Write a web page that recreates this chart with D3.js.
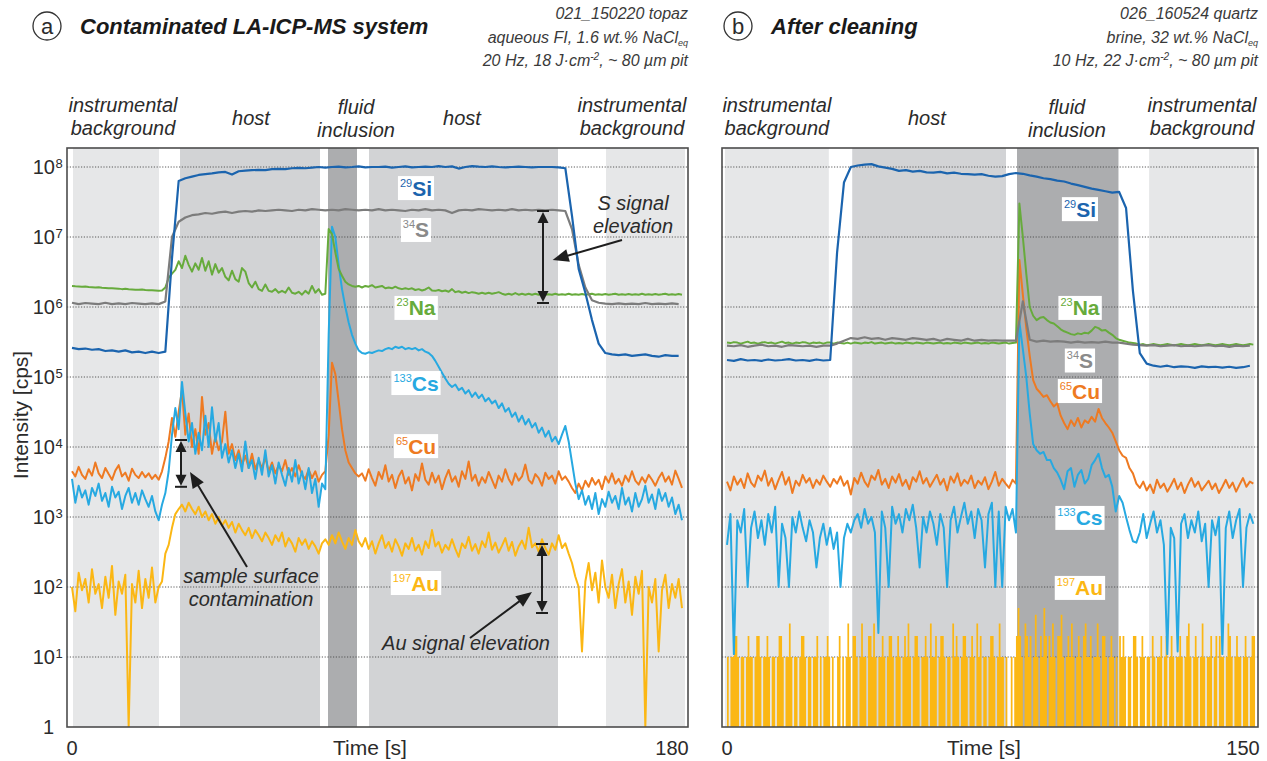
<!DOCTYPE html>
<html><head><meta charset="utf-8">
<script src="https://cdn.jsdelivr.net/npm/d3@7/dist/d3.min.js"></script>
<style>
html,body{margin:0;padding:0;background:#fff;}
svg{display:block;}
</style></head>
<body>
<svg id="chart" width="1267" height="761"></svg>
<script>
// ================= DATA =================
// sampling grids (seconds)
const aTimeSmooth = d3.range(0, 184, 2);   // 0..182
const aTime = d3.range(0, 184, 1);         // 0..183
const bTimeSmooth = d3.range(0, 154, 2);   // 0..152
const bTime = d3.range(0, 154, 1);         // 0..153
const bTimeFine = d3.range(0, 154, 0.5);   // 0..153.5

// ---- panel a: contaminated system (cps) ----
const aSi = [2.6e5,2.5e5,2.55e5,2.45e5,2.5e5,2.35e5,2.4e5,2.3e5,2.4e5,2.25e5,
2.3e5,2.2e5,2.3e5,2.2e5,2.3e5,5e6,6.3e7,6.9e7,7.3e7,7.7e7,
7.9e7,8.1e7,8.4e7,8.5e7,7.8e7,8.7e7,8.9e7,9.0e7,9.1e7,9.0e7,
9.3e7,9.4e7,9.3e7,9.6e7,9.7e7,9.6e7,9.8e7,1.0e8,9.8e7,1.0e8,
1.01e8,9.9e7,1.0e8,1.02e8,9.9e7,1.0e8,1.0e8,1.01e8,9.8e7,1.0e8,
1.02e8,9.9e7,1.0e8,1.01e8,1.0e8,1.03e8,1.0e8,1.02e8,9.5e7,1.0e8,
1.03e8,1.01e8,1.0e8,1.02e8,1.0e8,9.9e7,1.0e8,1.01e8,1.0e8,9.9e7,
1.0e8,1.0e8,1.0e8,9.9e7,9.6e7,2.0e7,3.5e6,1.6e6,6.5e5,3.0e5,
2.2e5,2.1e5,2.05e5,2.1e5,2.0e5,2.05e5,2.1e5,2.0e5,1.95e5,2.05e5,
2.0e5,2.0e5];
const aS = [1.15e6,1.1e6,1.14e6,1.12e6,1.1e6,1.15e6,1.1e6,1.13e6,1.1e6,1.14e6,
1.12e6,1.1e6,1.13e6,1.1e6,1.2e6,1.0e7,1.65e7,1.9e7,2.05e7,2.1e7,
2.2e7,2.15e7,2.25e7,2.3e7,2.2e7,2.3e7,2.35e7,2.3e7,2.4e7,2.35e7,
2.4e7,2.45e7,2.4e7,2.35e7,2.45e7,2.4e7,2.5e7,2.45e7,2.4e7,2.45e7,
2.4e7,2.5e7,2.45e7,2.4e7,2.45e7,2.4e7,2.5e7,2.4e7,2.45e7,2.4e7,
2.35e7,2.45e7,2.4e7,2.5e7,2.4e7,2.45e7,2.4e7,2.2e7,2.4e7,2.45e7,
2.4e7,2.5e7,2.45e7,2.4e7,2.45e7,2.4e7,2.5e7,2.4e7,2.45e7,2.4e7,
2.45e7,2.4e7,2.45e7,2.4e7,2.35e7,1.3e7,4.0e6,1.9e6,1.25e6,1.15e6,
1.12e6,1.1e6,1.13e6,1.1e6,1.12e6,1.1e6,1.14e6,1.1e6,1.12e6,1.1e6,
1.13e6,1.1e6];
const aNa = [2.0e6,1.98e6,1.97e6,1.95e6,1.96e6,1.93e6,1.92e6,1.9e6,1.91e6,1.88e6,
1.87e6,1.86e6,1.85e6,1.84e6,1.83e6,1.8e6,1.82e6,1.79e6,1.78e6,1.77e6,
1.76e6,1.78e6,1.75e6,1.74e6,1.73e6,1.72e6,1.7e6,1.72e6,
1.9e6,2.6e6,3.0e6,3.4e6,4.5e6,3.6e6,5.4e6,4.0e6,3.2e6,4.2e6,
3.4e6,5.0e6,3.3e6,4.5e6,2.9e6,4.1e6,3.1e6,3.6e6,2.7e6,2.4e6,
3.3e6,2.5e6,2.3e6,3.6e6,3.2e6,2.2e6,1.9e6,2.3e6,1.8e6,1.7e6,
2.1e6,1.7e6,1.65e6,1.8e6,1.6e6,1.7e6,1.6e6,1.9e6,1.6e6,1.55e6,
1.65e6,1.5e6,1.7e6,1.55e6,2.0e6,1.6e6,1.8e6,1.5e6,1.55e6,
1.3e7,1.1e7,6e6,3.5e6,2.8e6,2.3e6,2.1e6,2.0e6,1.95e6,2.0e6,
1.9e6,2.0e6,1.95e6,2.05e6,1.9e6,1.95e6,2.0e6,1.85e6,1.9e6,1.85e6,
1.95e6,1.85e6,1.8e6,1.85e6,1.8e6,1.85e6,1.75e6,1.8e6,1.72e6,1.78e6,
1.9e6,1.72e6,1.7e6,1.75e6,1.68e6,1.72e6,1.65e6,1.8e6,1.63e6,1.68e6,
1.6e6,1.65e6,1.58e6,1.63e6,1.6e6,1.55e6,1.6e6,1.55e6,1.6e6,1.55e6,
1.58e6,1.63e6,1.55e6,1.5e6,1.55e6,1.5e6,1.58e6,1.5e6,1.55e6,1.5e6,
1.55e6,1.5e6,1.55e6,1.5e6,1.55e6,1.5e6,1.52e6,1.5e6,1.55e6,1.5e6,
1.52e6,1.5e6,1.55e6,1.5e6,
1.52e6,1.5e6,1.53e6,1.5e6,1.52e6,1.55e6,1.5e6,1.52e6,1.5e6,1.53e6,
1.5e6,1.52e6,1.55e6,1.5e6,1.52e6,1.5e6,1.53e6,1.5e6,1.52e6,1.5e6,
1.55e6,1.5e6,1.52e6,1.5e6,1.53e6,1.5e6,1.52e6,1.55e6,1.5e6,1.52e6,
1.5e6,1.53e6,1.5e6];
const aCs = [3.5e3,1.6e3,2.8e3,1.9e3,2.4e3,1.5e3,2.6e3,2.0e3,3.0e3,1.7e3,
2.2e3,1.4e3,2.7e3,1.9e3,2.3e3,1.3e3,2.0e3,2.6e3,1.6e3,2.2e3,
1.5e3,2.4e3,1.8e3,1.4e3,2.0e3,1.2e3,9e2,
1.5e3,2.2e3,4.5e3,1.5e4,3.6e4,1.8e4,8.5e4,3.0e4,1.2e4,2.2e4,
8e3,1.6e4,9e3,2.8e4,1.0e4,3.7e4,1.2e4,2.2e4,7e3,1.1e4,
6e3,9e3,5e3,8e3,4.5e3,1.2e4,5e3,6.5e3,3.5e3,7e3,
4e3,9e3,3.8e3,5.5e3,3e3,6e3,4e3,2.8e3,5e3,3.2e3,
6.5e3,3e3,4.5e3,2.5e3,5e3,2.2e3,3.5e3,1.4e3,3e3,2.5e3,
4e5,1.4e7,1.0e7,4e6,1.8e6,1.0e6,6e5,4e5,3e5,2.4e5,
2.2e5,2.15e5,2.25e5,2.2e5,2.3e5,2.4e5,2.35e5,2.5e5,2.6e5,2.5e5,
2.7e5,2.6e5,2.7e5,2.5e5,2.6e5,2.5e5,2.6e5,2.4e5,2.5e5,2.3e5,
2.2e5,2.0e5,1.7e5,1.4e5,1.15e5,9.5e4,8e4,7.2e4,7.8e4,6.5e4,
7e4,5.8e4,6.5e4,5.2e4,6e4,5e4,5.6e4,4.5e4,5e4,4.2e4,
4.6e4,3.6e4,4.2e4,3.2e4,3.6e4,2.7e4,3.1e4,2.3e4,2.8e4,2.1e4,
2.5e4,1.9e4,2.2e4,1.6e4,1.9e4,1.4e4,1.7e4,1.2e4,1.4e4,1.1e4,
1.5e4,2.0e4,1.2e4,
6e3,3e3,1.8e3,2.4e3,1.5e3,2.0e3,1.3e3,2.2e3,1.1e3,1.8e3,
1.4e3,2.3e3,1.6e3,2.0e3,1.3e3,2.6e3,1.5e3,1.9e3,1.2e3,2.2e3,
1.4e3,1.8e3,2.8e3,1.6e3,2.1e3,1.3e3,2.5e3,1.7e3,2.2e3,1.4e3,
1.9e3,1.1e3,1.5e3,9e2];
const aCu = [4.5e3,3.8e3,5.2e3,4.0e3,3.5e3,4.8e3,3.9e3,6.0e3,4.2e3,3.6e3,
5.0e3,4.1e3,3.4e3,4.6e3,5.5e3,3.8e3,4.3e3,3.3e3,4.9e3,4.0e3,
3.6e3,4.4e3,3.7e3,4.2e3,3.5e3,4.0e3,3.4e3,4.5e3,
7e3,1.2e4,2.6e4,1.4e4,3.2e4,6.5e4,1.5e4,3.0e4,1.0e4,1.8e4,
8e3,5.2e4,1.5e4,2.2e4,8e3,1.4e4,9e3,1.2e4,3.2e4,8e3,
1.1e4,6.5e3,9e3,
5.5e3,7.5e3,5e3,8e3,4.8e3,6.5e3,5e3,7e3,4.5e3,6e3,
4.2e3,5.5e3,4.5e3,6.5e3,4e3,5e3,3.8e3,5.5e3,4e3,3.5e3,
4.8e3,3.6e3,4.5e3,3.2e3,4e3,4.5e3,
1.5e4,1.6e5,1.1e5,4.5e4,1.8e4,9e3,6e3,5e3,4.2e3,
3.8e3,4.2e3,3.3e3,4.8e3,3.6e3,2.8e3,4.4e3,3.5e3,5.5e3,3.2e3,
4.0e3,2.6e3,3.8e3,4.6e3,3.0e3,3.7e3,2.4e3,4.1e3,3.3e3,5.8e3,
3.4e3,2.9e3,4.3e3,3.1e3,3.9e3,2.5e3,3.6e3,4.7e3,3.2e3,3.8e3,
2.7e3,4.5e3,3.5e3,6.2e3,3.3e3,4.0e3,2.8e3,3.7e3,3.1e3,4.4e3,
3.4e3,2.6e3,3.9e3,3.2e3,4.8e3,3.5e3,2.9e3,4.2e3,3.3e3,3.8e3,
5.6e3,3.4e3,3.0e3,4.1e3,3.6e3,2.8e3,4.3e3,3.5e3,3.9e3,3.0e3,
4.5e3,3.4e3,3.8e3,3.2e3,2.6e3,2.2e3,3.0e3,2.4e3,3.3e3,2.7e3,
3.6e3,2.9e3,3.4e3,2.5e3,3.8e3,3.1e3,4.2e3,3.0e3,3.5e3,2.8e3,
3.9e3,3.2e3,4.5e3,3.3e3,2.9e3,3.7e3,3.1e3,4.0e3,3.4e3,2.8e3,
3.6e3,4.3e3,3.2e3,3.8e3,2.9e3,4.6e3,3.5e3,2.6e3];
const aAu = [1.0e2,4.5e1,1.6e2,9e1,1.3e2,6e1,1.8e2,8e1,1.1e2,5e1,
1.4e2,7e1,2.0e2,4e1,1.2e2,8e1,1.5e2,1,1.1e2,6e1,
1.7e2,5e1,1.3e2,7e1,1.9e2,6e1,1.0e2,1.2e2,
3e2,4e2,7e2,1.1e3,1.3e3,1.5e3,1.2e3,1.6e3,1.3e3,1.1e3,
1.4e3,1.0e3,1.2e3,9e2,1.1e3,8e2,1.0e3,7.5e2,9e2,7e2,
8.5e2,6e2,8e2,6.5e2,5.5e2,7e2,5e2,6.5e2,5.5e2,4.5e2,
6e2,5e2,4e2,5.5e2,4.5e2,6e2,3.8e2,5e2,4.2e2,3.2e2,
5e2,4e2,4.8e2,3.5e2,4.5e2,3.8e2,3e2,4.2e2,4.8e2,
4e2,5.5e2,4.2e2,6e2,4.5e2,3.5e2,5e2,4e2,6.5e2,4.5e2,
3.8e2,5e2,3.5e2,4.5e2,3e2,4.2e2,5.5e2,3.6e2,4.4e2,3.2e2,
4.8e2,3.8e2,2.8e2,4.2e2,3.5e2,5e2,3.3e2,4e2,2.9e2,4.5e2,
3.6e2,6.5e2,3.8e2,4.4e2,3.1e2,4e2,3.4e2,4.8e2,3.5e2,2.7e2,
4.2e2,3.6e2,5.2e2,3.3e2,4.1e2,3e2,4.5e2,3.7e2,6e2,3.4e2,
4.3e2,3.1e2,3.9e2,5e2,3.3e2,4.4e2,2.8e2,3.8e2,4.6e2,3.5e2,
7e2,3.7e2,4.2e2,3.2e2,4.8e2,3.6e2,2.9e2,4.2e2,3.4e2,5.5e2,
3.6e2,4.2e2,3e2,2.2e2,
1.4e2,1.0e2,1.2e1,1.2e2,2.2e2,9e1,1.6e2,6e1,2.4e2,1.0e2,
7e1,1.5e2,5e1,1.1e2,1.8e2,6e1,1.2e2,4e1,1.4e2,8e1,
1.7e2,1,1.0e2,6e1,1.3e2,1.2e1,9e1,1.5e2,5e1,1.1e2,
7e1,1.3e2,5e1];

// ---- panel b: after cleaning (cps) ----
const bSi = [1.75e5,1.7e5,1.8e5,1.72e5,1.75e5,1.7e5,1.78e5,1.72e5,1.75e5,1.8e5,
1.72e5,1.75e5,1.7e5,1.78e5,1.72e5,1.75e5,6e6,6e7,1.0e8,1.05e8,
1.08e8,1.1e8,1.02e8,9.8e7,9.4e7,8.8e7,9.0e7,8.6e7,8.8e7,8.4e7,
8.3e7,8.5e7,8.1e7,8.3e7,8.0e7,7.9e7,7.8e7,7.9e7,7.5e7,7.3e7,
7.4e7,7.9e7,8.2e7,8.0e7,7.6e7,7.3e7,6.9e7,6.7e7,6.4e7,6.2e7,
5.8e7,5.5e7,5.2e7,4.9e7,4.7e7,4.5e7,4.3e7,4.4e7,2.6e7,1.7e6,
2.2e5,1.55e5,1.45e5,1.4e5,1.45e5,1.38e5,1.42e5,1.4e5,1.35e5,1.42e5,
1.38e5,1.4e5,1.36e5,1.4e5,1.35e5,1.38e5,1.45e5];
const bS = [2.8e5,2.75e5,2.85e5,2.7e5,2.8e5,2.9e5,2.75e5,2.8e5,2.7e5,2.85e5,
2.8e5,2.75e5,2.8e5,2.7e5,2.8e5,2.8e5,3.0e5,3.3e5,3.6e5,3.5e5,
3.7e5,3.5e5,3.6e5,3.4e5,3.6e5,3.5e5,3.4e5,3.6e5,3.5e5,3.4e5,
3.5e5,3.3e5,3.5e5,3.4e5,3.3e5,3.5e5,3.3e5,3.4e5,3.3e5,3.35e5,
3.3e5,3.3e5,3.3e5,1.2e6,3.4e5,3.2e5,3.3e5,3.2e5,3.25e5,3.2e5,
3.1e5,3.2e5,3.1e5,3.15e5,3.1e5,3.2e5,3.1e5,3.1e5,3.0e5,2.9e5,
2.85e5,2.8e5,2.85e5,2.75e5,2.8e5,2.85e5,2.75e5,2.8e5,2.75e5,2.8e5,
2.85e5,2.75e5,2.8e5,2.7e5,2.8e5,2.75e5,2.8e5];
const bNa = [3.1e5,3.05e5,3.15e5,3.1e5,3.0e5,3.1e5,3.2e5,3.05e5,3.1e5,3.0e5,
3.1e5,3.15e5,3.05e5,3.1e5,3.0e5,3.1e5,3.2e5,3.05e5,3.1e5,3.0e5,
3.1e5,3.05e5,3.15e5,3.1e5,3.0e5,3.1e5,3.05e5,3.1e5,3.0e5,3.1e5,
3.1e5,3.0e5,3.1e5,3.05e5,3.0e5,3.1e5,
3.0e5,3.1e5,3.05e5,3.0e5,3.1e5,3.05e5,3.15e5,3.0e5,3.05e5,3.1e5,
3.0e5,3.05e5,3.1e5,3.0e5,3.05e5,3.0e5,3.1e5,3.05e5,3.0e5,3.1e5,
3.05e5,3.0e5,3.1e5,3.05e5,3.0e5,3.05e5,3.1e5,3.0e5,3.05e5,3.0e5,
3.1e5,3.05e5,3.0e5,3.1e5,3.05e5,3.0e5,3.05e5,3.1e5,3.0e5,3.05e5,
3.0e5,3.1e5,3.05e5,3.0e5,3.05e5,3.1e5,3.0e5,3.05e5,3.1e5,
3.0e7,1.0e7,3.0e6,1.0e6,7.5e5,6.5e5,7e5,7.2e5,6.5e5,6e5,
5.8e5,5.3e5,4.8e5,4.5e5,4.3e5,4.1e5,4.0e5,4.2e5,4.1e5,4.3e5,
4.2e5,4.6e5,5.2e5,5.0e5,4.6e5,4.7e5,4.3e5,4.0e5,3.6e5,3.4e5,
3.3e5,3.2e5,3.1e5,3.05e5,3.0e5,
2.9e5,2.95e5,2.85e5,2.9e5,2.95e5,2.9e5,2.85e5,2.9e5,2.95e5,2.9e5,
2.85e5,2.9e5,2.95e5,2.9e5,2.85e5,2.9e5,2.95e5,2.9e5,2.85e5,2.9e5,
2.95e5,2.9e5,2.85e5,2.9e5,2.95e5,2.9e5,2.85e5,2.9e5,2.95e5,2.9e5,
2.85e5,2.9e5,2.95e5,2.9e5];
const bCu = [3.2e3,2.4e3,3.8e3,2.9e3,3.5e3,2.6e3,4.2e3,3.1e3,2.7e3,3.9e3,
3.3e3,4.6e3,2.8e3,3.6e3,2.5e3,3.4e3,4.4e3,2.9e3,3.7e3,2.2e3,
3.3e3,2.8e3,4.0e3,3.1e3,3.6e3,2.6e3,3.4e3,2.9e3,3.9e3,3.2e3,
2.7e3,3.5e3,3.0e3,3.8e3,2.8e3,3.3e3,2.1e3,3.6e3,3.0e3,4.3e3,
3.2e3,2.7e3,3.9e3,3.4e3,4.7e3,2.9e3,3.5e3,2.6e3,3.8e3,3.1e3,
4.1e3,2.8e3,3.4e3,2.5e3,3.7e3,3.2e3,4.5e3,3.0e3,3.6e3,2.7e3,
3.3e3,4.0e3,2.9e3,3.5e3,2.4e3,3.8e3,3.1e3,4.2e3,2.8e3,3.4e3,
3.0e3,3.9e3,2.6e3,3.3e3,2.9e3,3.7e3,2.5e3,3.2e3,4.4e3,2.8e3,
3.5e3,3.0e3,2.6e3,3.4e3,3.0e3,
4.7e6,1.5e6,5e5,2e5,9e4,6.8e4,6e4,5.2e4,5.5e4,4.5e4,
3.8e4,4.2e4,2.8e4,2.2e4,1.8e4,2.4e4,2.0e4,2.6e4,1.9e4,2.4e4,
2.2e4,2.7e4,2.3e4,3.5e4,2.6e4,2.2e4,1.9e4,1.6e4,1.2e4,9e3,
7.5e3,7e3,5e3,4.2e3,3.0e3,
2.6e3,3.2e3,2.4e3,2.9e3,2.2e3,3.4e3,2.6e3,3.0e3,2.3e3,2.8e3,
3.5e3,2.5e3,3.1e3,2.2e3,2.9e3,3.6e3,2.7e3,3.2e3,2.4e3,2.8e3,
3.3e3,2.5e3,3.0e3,2.2e3,2.7e3,3.4e3,2.6e3,3.1e3,2.3e3,2.9e3,
3.6e3,2.7e3,3.2e3,3.0e3];
const bCs = [4e2,1.1e3,1.1e1,9e2,6e2,1.3e3,1.0e2,7e2,1.2e3,5e2,
9e2,4e2,1.1e3,6e2,1.4e3,1.0e2,8e2,5e2,1.0e2,1.0e3,
6e2,1.2e3,7e2,4.5e2,9e2,6e2,1.9e2,5e2,8e2,4e2,
7e2,3.5e2,6e2,1.0e2,5e2,8e2,6e2,9e2,1.1e3,7e2,
1.3e3,8e2,1.0e3,6e2,2.2e1,1.2e3,7e2,1.0e2,1.4e3,8e2,
1.1e3,6e2,1.3e3,9e2,1.5e3,7e2,1.9e2,1.0e3,6e2,1.2e3,
8e2,4e2,1.1e3,7e2,1.0e2,9e2,1.4e3,6e2,1.0e3,1.6e3,
8e2,1.2e3,5e2,1.3e3,9e2,1.9e2,1.1e3,1.6e3,1.0e2,1.2e3,
1.0e2,1.4e3,9e2,1.3e3,6e2,
6.1e5,2.5e5,1.0e5,3e4,1.1e4,9e3,8e3,8.5e3,6.5e3,6.5e3,
5e3,4.3e3,3.4e3,2.5e3,4.5e3,5e3,2.7e3,4e3,4.7e3,3.0e3,
3.5e3,5.5e3,6.5e3,8e3,5e3,3.7e3,4e3,2.7e3,1.2e3,2e3,
1.6e3,1.0e3,
6.5e2,4.5e2,4.3e2,6e2,1.1e3,5e2,8e2,1.2e3,6e2,9e2,
4e2,1.1e1,7e2,5e2,1.2e1,8e2,1.1e3,5e2,9e2,6e2,
1.2e3,4.5e2,8e2,1.0e2,9e2,5.5e2,1.0e3,1.1e1,7e2,1.2e3,
5e2,9e2,1.3e3,1.0e2,7e2,1.1e3,8e2];
// gold after cleaning: counting-statistics levels (0 cps sits on the axis floor)
const bAu = [10,0,10,10,20,20,10,0,10,10, 0,10,20,10,10,0,10,20,20,10,
0,10,10,20,10,0,10,10,0,10, 20,20,10,0,10,10,30,10,0,10,
10,0,10,20,20,10,0,10,10,0, 10,10,20,0,10,0,10,10,20,10,
0,10,0,0,10,20,0,10,0,10, 30,10,0,20,20,10,0,10,30,10,
10,0,20,20,10,30,10,0,10,10, 20,10,0,10,20,20,10,0,10,20,
10,0,10,20,10,30,10,0,10,20, 20,10,0,10,10,20,10,0,30,10,
10,20,0,10,20,20,10,0,10,10, 0,30,10,20,10,0,10,20,20,10,
0,10,20,10,0,30,10,20,0,10, 10,0,10,20,20,10,0,10,30,10,
10,0,10,0,0,10,0,10,20,50, 20,10,0,30,20,10,20,0,10,40,
10,0,20,10,50,20,0,20,10,30, 10,0,20,20,40,10,0,10,20,10,
30,10,0,10,20,10,0,20,30,10, 10,20,0,10,10,30,10,0,20,20,
10,0,10,20,10,0,10,0,20,10, 20,10,0,10,10,0,20,20,10,0,
10,20,10,0,10,10,0,20,10,0, 10,10,20,0,10,20,0,10,20,10,
0,10,10,20,10,0,10,20,30,10, 0,10,20,10,0,10,30,10,0,10,
10,20,0,10,20,0,20,10,10,0, 10,30,20,10,0,10,20,10,10,0,
10,20,10,0,10,20,20,10];

// axis ticks
const intensityTicks = [1,10,100,1e3,1e4,1e5,1e6,1e7,1e8];
const aTimeTicks = [0,180];
const bTimeTicks = [0,150];

// measurement phases [start s, end s, kind]
const aBands = [[0.3,26.1,'bg'],[32.4,74.4,'host'],[76.8,85.5,'fi'],[89.1,145.8,'host'],[160.2,183.9,'bg']];
const bBands = [[-0.6,29.6,'bg'],[36.4,81.1,'host'],[84.3,113.8,'fi'],[122.7,153.3,'bg']];
const aPhaseLabels = [[15.3,['instrumental','background']],[53.7,['host']],[85.2,['fluid','inclusion']],[117,['host']],[168,['instrumental','background']]];
const bPhaseLabels = [[14.5,['instrumental','background']],[58.1,['host']],[98.8,['fluid','inclusion']],[138.1,['instrumental','background']]];

// isotope label anchors [time, cps]
const aLabelPos = {Si:[103.2,5.0e7],S:[103.2,1.26e7],Na:[103.2,9.7e5],Cs:[103.2,8.2e4],Cu:[103.2,1.03e4],Au:[103.2,114]};
const bLabelPos = {Si:[102.6,2.5e7],Na:[102.6,9.7e5],S:[102.6,1.72e5],Cu:[102.6,6.3e4],Cs:[102.6,970],Au:[102.6,97]};

// ================= DRAWING =================
const FONT = '"Liberation Sans", Arial, Helvetica, sans-serif';
const TXT = '#2b2b2b';
const svg = d3.select('#chart').style('font-family', FONT);

const colors = {Si:'#1b64ae', S:'#7c7c7c', Na:'#67ab3c', Cs:'#27a9e1', Cu:'#ee7a22', Au:'#fbb714'};
const labelColors = {Si:'#1b64ae', S:'#8a8a8a', Na:'#67ab3c', Cs:'#27a9e1', Cu:'#ee7a22', Au:'#fbb714'};
const isotopes = {Si:'29', S:'34', Na:'23', Cs:'133', Cu:'65', Au:'197'};
const bandFill = {bg:'#e6e7e8', host:'#d2d3d5', fi:'#acadaf'};

const frameTop = 148, frameBottom = 727;
const y = d3.scaleLog().domain([1,1e8]).range([727,167]);

const panels = [
  {key:'a', frame:[67,688], x:d3.scaleLinear().domain([0,180]).range([72,672]),
   ticks:aTimeTicks, timeLabelAt:89.4, bands:aBands, phases:aPhaseLabels, labels:aLabelPos,
   series:[
     {el:'Au', t:aTime, v:aAu, w:2},
     {el:'Cu', t:aTime, v:aCu, w:2},
     {el:'Cs', t:aTime, v:aCs, w:2},
     {el:'Na', t:aTime, v:aNa, w:2},
     {el:'S',  t:aTimeSmooth, v:aS, w:2.2},
     {el:'Si', t:aTimeSmooth, v:aSi, w:2.2}],
   title:'Contaminated LA-ICP-MS system', letter:'a', letterX:47, titleX:80,
   info:['021_150220 topaz', ['aqueous FI, 1.6 wt.% NaCl','eq'], ['20 Hz, 18 J·cm','-2',', ~ 80 µm pit']]},
  {key:'b', frame:[722,1258], x:d3.scaleLinear().domain([0,150]).range([727,1243]),
   ticks:bTimeTicks, timeLabelAt:74.7, bands:bBands, phases:bPhaseLabels, labels:bLabelPos,
   series:[
     {el:'Au', t:bTimeFine, v:bAu, w:0, counts:true},
     {el:'Cu', t:bTime, v:bCu, w:2},
     {el:'Cs', t:bTime, v:bCs, w:2},
     {el:'Na', t:bTime, v:bNa, w:2},
     {el:'S',  t:bTimeSmooth, v:bS, w:2.2},
     {el:'Si', t:bTimeSmooth, v:bSi, w:2.2}],
   title:'After cleaning', letter:'b', letterX:738, titleX:771,
   info:['026_160524 quartz', ['brine, 32 wt.% NaCl','eq'], ['10 Hz, 22 J·cm','-2',', ~ 80 µm pit']]}
];

const defs = svg.append('defs');

function arrowHead(g, tipX, tipY, fromX, fromY, len, half) {
  const a = Math.atan2(tipY - fromY, tipX - fromX);
  const bx = tipX - len*Math.cos(a), by = tipY - len*Math.sin(a);
  const px = -Math.sin(a)*half, py = Math.cos(a)*half;
  g.append('path').attr('d', `M${tipX},${tipY}L${bx+px},${by+py}L${bx-px},${by-py}Z`).attr('fill','#1e1e1e');
}
function doubleArrow(g, x, yTop, yBot) {
  const c = 6;
  g.append('line').attr('x1',x).attr('x2',x).attr('y1',yTop+8).attr('y2',yBot-8).attr('stroke','#1e1e1e').attr('stroke-width',2);
  g.append('line').attr('x1',x-c).attr('x2',x+c).attr('y1',yTop).attr('y2',yTop).attr('stroke','#1e1e1e').attr('stroke-width',2);
  g.append('line').attr('x1',x-c).attr('x2',x+c).attr('y1',yBot).attr('y2',yBot).attr('stroke','#1e1e1e').attr('stroke-width',2);
  arrowHead(g, x, yTop+1, x, yTop+20, 11, 5.5);
  arrowHead(g, x, yBot-1, x, yBot-20, 11, 5.5);
}
function pointer(g, x1, y1, x2, y2) {
  const a = Math.atan2(y2-y1, x2-x1);
  g.append('line').attr('x1',x1).attr('y1',y1).attr('x2',x2-10*Math.cos(a)).attr('y2',y2-10*Math.sin(a))
    .attr('stroke','#1e1e1e').attr('stroke-width',2);
  arrowHead(g, x2, y2, x1, y1, 16, 6.5);
}

panels.forEach(p => {
  const x = p.x;
  const [fx0, fx1] = p.frame;
  const g = svg.append('g');
  defs.append('clipPath').attr('id','clip-'+p.key).append('rect')
    .attr('x',fx0).attr('y',frameTop).attr('width',fx1-fx0).attr('height',frameBottom-frameTop);
  // phase bands
  g.append('g').selectAll('rect').data(p.bands).join('rect')
    .attr('x', d => Math.max(fx0, x(d[0]))).attr('width', d => Math.min(fx1, x(d[1])) - Math.max(fx0, x(d[0])))
    .attr('y', frameTop).attr('height', frameBottom-frameTop)
    .attr('fill', d => bandFill[d[2]]);
  // grid
  g.append('g').selectAll('line').data(intensityTicks.filter(v => v > 1)).join('line')
    .attr('x1', fx0).attr('x2', fx1).attr('y1', d => y(d)).attr('y2', d => y(d))
    .attr('stroke', '#4a4a4a').attr('stroke-width', 0.9).attr('stroke-dasharray', '1.2,1.6');
  // signals
  const lg = g.append('g').attr('clip-path', `url(#clip-${p.key})`);
  p.series.forEach(s => {
    const pts = s.v.map((v,i) => [s.t[i], v]).filter(d => d[0] !== undefined);
    if (s.counts) {
      // low count-rate signal: dense steps between the axis floor and the count level
      const area = d3.area().curve(d3.curveStepAfter).x(d => x(d[0]))
        .y0(y(1)).y1(d => y(Math.max(d[1], 1)));
      lg.append('path').datum(pts).attr('d', area).attr('fill', colors[s.el]);
      return;
    }
    const line = d3.line().x(d => x(d[0])).y(d => y(Math.max(d[1], 1)));
    lg.append('path').datum(pts).attr('d', line).attr('fill','none')
      .attr('stroke', colors[s.el]).attr('stroke-width', s.w).attr('stroke-linejoin','round');
  });
  // frame
  g.append('rect').attr('x',fx0).attr('y',frameTop).attr('width',fx1-fx0).attr('height',frameBottom-frameTop)
    .attr('fill','none').attr('stroke','#4d4d4d').attr('stroke-width',1.6);

  // isotope labels
  Object.keys(p.labels).forEach(el => {
    const [t, v] = p.labels[el];
    const cx = x(t), cy = y(v);
    const lgp = g.append('g');
    const rect = lgp.append('rect').attr('fill','#fff');
    const tx = lgp.append('text').attr('x', cx).attr('y', cy + 7.5).attr('text-anchor','middle')
      .attr('fill', labelColors[el]);
    tx.append('tspan').attr('font-size', 11).attr('dy', -9).text(isotopes[el]);
    tx.append('tspan').attr('font-size', 21).attr('font-weight','bold').attr('dy', 9).text(el);
    const bb = tx.node().getBBox();
    rect.attr('x', bb.x - 2).attr('y', cy - 12).attr('width', bb.width + 4).attr('height', 24);
  });

  // phase labels
  p.phases.forEach(([t, lines]) => {
    const tx = g.append('text').attr('text-anchor','middle').attr('font-size',20)
      .attr('font-style','italic').attr('fill',TXT);
    if (lines.length === 1) {
      tx.append('tspan').attr('x', x(t)).attr('y', 125).text(lines[0]);
    } else {
      const first = lines[0] === 'fluid' ? 114 : 112;
      tx.append('tspan').attr('x', x(t)).attr('y', first).text(lines[0]);
      tx.append('tspan').attr('x', x(t)).attr('y', first + 23).text(lines[1]);
    }
  });

  // x ticks
  p.ticks.forEach(t => {
    g.append('text').attr('x', x(t)).attr('y', 755).attr('text-anchor','middle')
      .attr('font-size', 20).attr('fill', TXT).text(t);
  });
  g.append('text').attr('x', x(p.timeLabelAt)).attr('y', 755).attr('text-anchor','middle')
    .attr('font-size', 21).attr('fill', TXT).text('Time [s]');

  // header
  g.append('circle').attr('cx', p.letterX).attr('cy', 26).attr('r', 14)
    .attr('fill','none').attr('stroke','#333').attr('stroke-width',1.3);
  g.append('text').attr('x', p.letterX).attr('y', 33.5).attr('text-anchor','middle')
    .attr('font-size', 22).attr('fill', TXT).text(p.letter);
  g.append('text').attr('x', p.titleX).attr('y', 34).attr('font-size', 22)
    .attr('font-weight','bold').attr('font-style','italic').attr('fill','#1a1a1a').text(p.title);
  const infoY = [19, 43, 66];
  p.info.forEach((ln, i) => {
    const tx = g.append('text').attr('x', fx1).attr('y', infoY[i]).attr('text-anchor','end')
      .attr('font-size', 16).attr('font-style','italic').attr('fill','#3a3a3a');
    if (typeof ln === 'string') { tx.text(ln); return; }
    tx.append('tspan').text(ln[0]);
    if (i === 1) {
      tx.append('tspan').attr('font-size', 9).attr('dy', 3).text(ln[1]);
    } else {
      tx.append('tspan').attr('font-size', 10).attr('dy', -6).text(ln[1]);
      tx.append('tspan').attr('dy', 6).text(ln[2]);
    }
  });
});

// y axis (left panel only)
const yax = svg.append('g').attr('fill', TXT);
intensityTicks.forEach(v => {
  const yy = y(v);
  if (v === 1) {
    yax.append('text').attr('x', 54).attr('y', yy + 7).attr('text-anchor','end').attr('font-size', 20).text('1');
  } else {
    yax.append('text').attr('x', 55).attr('y', yy + 7).attr('text-anchor','end').attr('font-size', 20).text('10');
    yax.append('text').attr('x', 55.5).attr('y', yy + 0.5).attr('font-size', 13).text(Math.round(Math.log10(v)));
  }
});
svg.append('text').attr('transform','translate(28,415) rotate(-90)').attr('text-anchor','middle')
  .attr('font-size', 21).attr('fill', TXT).text('Intensity [cps]');

// annotations (panel a, in data coordinates)
const ax = panels[0].x;
const ann = svg.append('g');
const annText = (t, v, lines) => {
  const tx = ann.append('text').attr('text-anchor','middle').attr('font-size',20)
    .attr('font-style','italic').attr('fill',TXT);
  lines.forEach((l, i) => tx.append('tspan').attr('x', ax(t)).attr('y', y(v) + i*23).text(l));
};
// S signal elevation
doubleArrow(ann, ax(141.3), y(2.35e7), y(1.14e6));
pointer(ann, ax(165), y(9.06e6), ax(144.2), y(4.69e6));
annText(168.3, 2.43e7, ['S signal','elevation']);
// sample surface contamination
doubleArrow(ann, ax(32.7), y(1.26e4), y(2.7e3));
pointer(ann, ax(52.5), y(193), ax(35.4), y(4.4e3));
annText(53.7, 114, ['sample surface','contamination']);
// Au signal elevation
doubleArrow(ann, ax(141), y(411), y(42.5));
pointer(ann, ax(119.4), y(18.7), ax(138), y(85));
annText(118.2, 12.6, ['Au signal elevation']);
</script>
</body></html>
